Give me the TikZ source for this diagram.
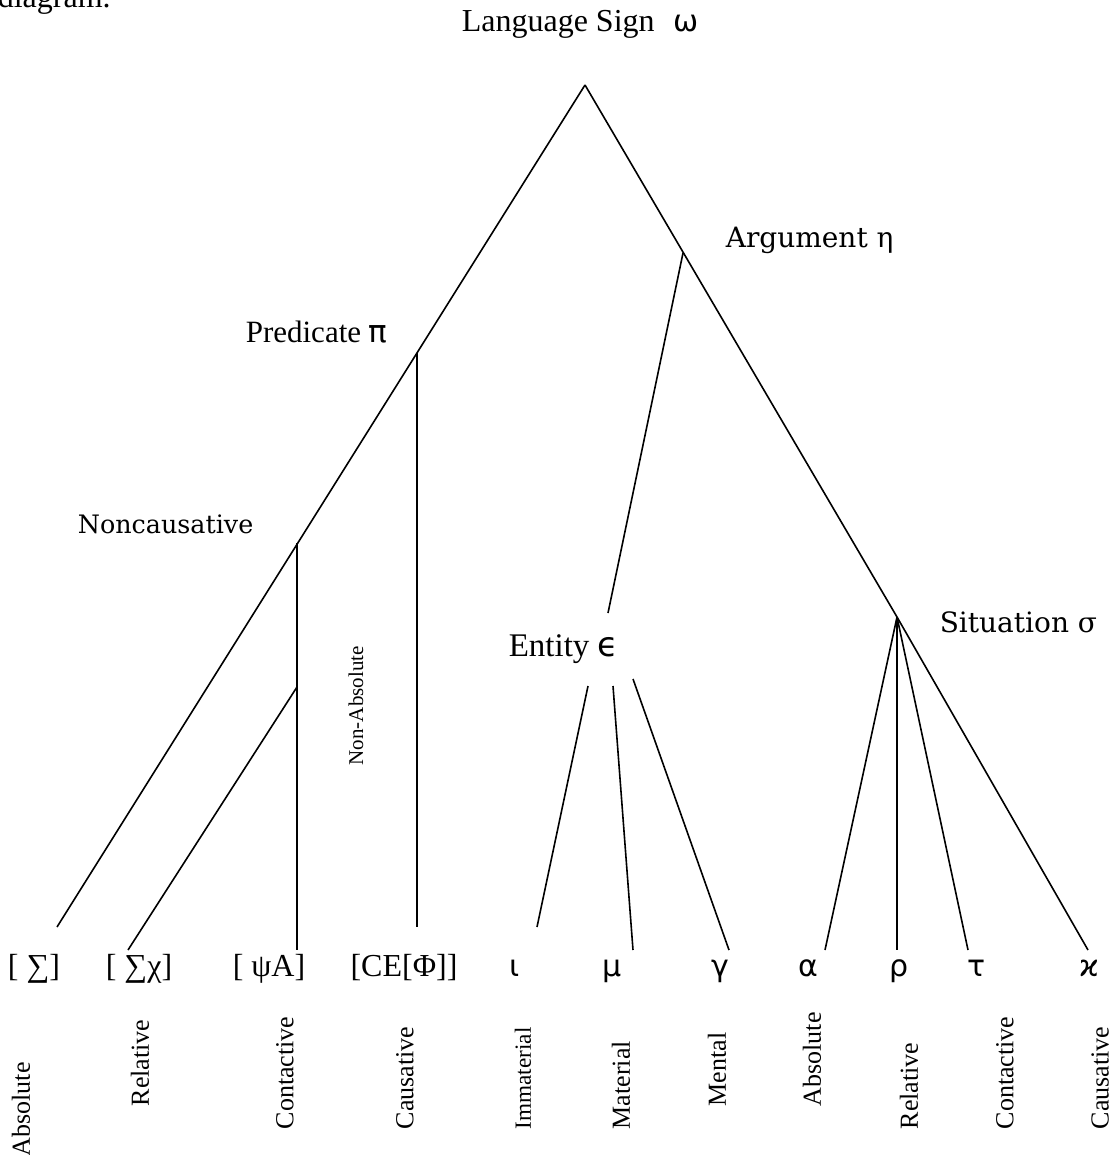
\documentclass[tikz,border=0pt]{standalone}
\usepackage{fontspec}
\setmainfont{Liberation Serif}
\newfontfamily\grk{DejaVu Sans}
\newfontfamily\pal{DejaVu Serif}
\tikzset{
  lbl/.style={anchor=base west, inner sep=0pt, font=\fontsize{16}{18}\selectfont},
  leaf/.style={anchor=base, inner sep=0pt, font=\fontsize{16}{18}\selectfont},
  vlbl/.style={rotate=90, anchor=west, inner sep=0pt, font=\fontsize{13}{15}\selectfont},
}
\begin{document}
\begin{tikzpicture}[x=0.5pt, y=-0.5pt, line width=0.8pt, line cap=butt, line join=miter]
				\useasboundingbox (0,0) rectangle (1115,1155);
				% ==========================================
				\node[lbl] (diag) at (-3,8) {diagram.};
				\node[lbl] (lang) at (461,32) {Language Sign\hspace{0.6em}{\grk\fontsize{15}{17}\selectfont ω}};
				\node[lbl, font=\fontsize{15.5}{17}\selectfont] (pred) at (245,342) {Predicate {\grk π}};
				\node[lbl, font=\pal\fontsize{14}{16}\selectfont] (arg) at (725,248) {Argument η};
				\node[lbl, font=\pal\fontsize{12.7}{15}\selectfont] (nonc) at (77,533) {Noncausative};
				\node[lbl, font=\fontsize{16.5}{18}\selectfont] (ent) at (508,656) {Entity {\grk\fontsize{17}{19}\selectfont ϵ}};
				\node[lbl, font=\pal\fontsize{14}{16}\selectfont] (sit) at (939,632) {Situation σ};
				\node[vlbl, font=\fontsize{10.5}{12}\selectfont] (nonabs) at (356,766) {Non-Absolute};
				% junctions and line ends
				\coordinate (top) at (585,85);
				\coordinate (lEnd) at (57,927);
				\coordinate (pJ) at (417,353);
				\coordinate (pEnd) at (417,927);
				\coordinate (nJ) at (297,543);
				\coordinate (nEnd) at (297,950);
				\coordinate (rJ) at (297,687);
				\coordinate (rEnd) at (128,950);
				\coordinate (aJ) at (683,253);
				\coordinate (aEnd) at (608,613);
				\coordinate (sJ) at (897,617);
				\coordinate (kEnd) at (1088,950);
				% ==========================================
				\draw (top) -- (lEnd);
				\draw (top) -- (sJ) -- (kEnd);
				\draw (pJ) -- (pEnd);
				\draw (nJ) -- (nEnd);
				\draw (rJ) -- (rEnd);
				\draw (aJ) -- (aEnd);
				% Entity
				\draw (588,686) -- (537,927);
				\draw (613,686) -- (633,950);
				\draw (633,679) -- (729,950);
				% Situation
				\draw (sJ) -- (825,950);
				\draw (sJ) -- (897,950);
				\draw (sJ) -- (968,950);
				% ==========================================
				\node[leaf] (sig) at (34,976) {[ ∑]};
				\node[leaf] (sigchi) at (139,976) {[ ∑χ]};
				\node[leaf] (psiA) at (269,976) {[ ψA]};
				\node[leaf] (cePhi) at (404,976) {[CE[Φ]]};
				\node[leaf, font=\grk\fontsize{15}{17}\selectfont] (iota) at (515,976) {ι};
				\node[leaf, font=\grk\fontsize{15}{17}\selectfont] (mu) at (612,976) {μ};
				\node[leaf, font=\grk\fontsize{15}{17}\selectfont] (gam) at (720,976) {γ};
				\node[leaf, font=\grk\fontsize{15}{17}\selectfont] (alp) at (808,976) {α};
				\node[leaf, font=\grk\fontsize{15}{17}\selectfont] (rho) at (899,976) {ρ};
				\node[leaf, font=\grk\fontsize{15}{17}\selectfont] (tau) at (977,976) {τ};
				\node[leaf, font=\grk\fontsize{15}{17}\selectfont] (kap) at (1089,976) {ϰ};
				% vertical names
				\node[vlbl] (absL) at (21,1157) {Absolute};
				\node[vlbl] (relL) at (140,1107) {Relative};
				\node[vlbl] (conL) at (285,1130) {Contactive};
				\node[vlbl] (cauL) at (405,1130) {Causative};
				\node[vlbl, font=\fontsize{11.6}{13}\selectfont] (imm) at (523,1130) {Immaterial};
				\node[vlbl] (mat) at (621,1130) {Material};
				\node[vlbl] (men) at (717,1107) {Mental};
				\node[vlbl] (absR) at (812,1107) {Absolute};
				\node[vlbl] (relR) at (909,1130) {Relative};
				\node[vlbl] (conR) at (1005,1130) {Contactive};
				\node[vlbl] (cauR) at (1100,1130) {Causative};
			\end{tikzpicture}
\end{document}
